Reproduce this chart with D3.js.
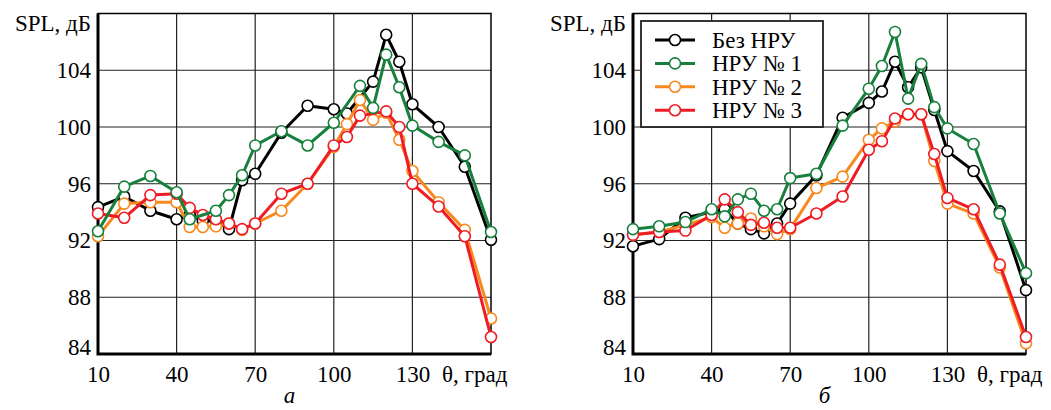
<!DOCTYPE html>
<html>
<head>
<meta charset="utf-8">
<script src="https://cdn.jsdelivr.net/npm/d3@7"></script>
<style>
  body { margin: 0; background: #fff; }
  svg text { font-family: "Liberation Serif", "Times New Roman", serif; font-size: 23px; fill: #000; }
</style>
</head>
<body>
<svg id="chart" width="1051" height="410"></svg>
<script>
var seriesNames = ["Без НРУ", "НРУ № 1", "НРУ № 2", "НРУ № 3"];
var seriesColors = ["#000000", "#17803d", "#f7891f", "#ee1c25"];
var xTicks = [10, 40, 70, 100, 130];
var yTicks = [84, 88, 92, 96, 100, 104];

// panel "а"
var a_bez_x = [10, 20, 30, 40, 45, 50, 55, 60, 65, 70, 80, 90, 100, 105, 115, 120, 125, 130, 140, 150, 160];
var a_bez_y = [94.35, 95.1, 94.1, 93.5, 93.8, 93.4, 93.4, 92.8, 96.25, 96.7, 99.6, 101.5, 101.25, 100.95, 103.2, 106.5, 104.6, 101.6, 100.0, 97.2, 92.05];
var a_n1_x = [10, 20, 30, 40, 45, 55, 60, 65, 70, 80, 90, 100, 110, 115, 120, 125, 130, 140, 150, 160];
var a_n1_y = [92.65, 95.8, 96.55, 95.4, 93.5, 94.1, 95.2, 96.6, 98.7, 99.7, 98.7, 100.3, 102.9, 101.35, 105.1, 102.8, 100.1, 98.95, 98.0, 92.6];
var a_n2_x = [10, 20, 30, 40, 45, 50, 55, 60, 65, 70, 80, 90, 100, 105, 110, 115, 120, 125, 130, 140, 150, 160];
var a_n2_y = [92.3, 94.6, 94.7, 94.7, 92.95, 92.95, 93.0, 93.2, 92.75, 93.2, 94.1, 96.0, 98.6, 100.2, 101.9, 100.5, 101.0, 99.1, 96.9, 94.7, 92.75, 86.5];
var a_n3_x = [10, 20, 30, 40, 45, 50, 55, 60, 65, 70, 80, 90, 100, 105, 110, 120, 125, 130, 140, 150, 160];
var a_n3_y = [93.9, 93.6, 95.2, 95.3, 94.3, 93.8, 93.5, 93.2, 92.8, 93.2, 95.3, 96.0, 98.7, 99.3, 100.8, 101.1, 100.0, 96.0, 94.4, 92.3, 85.2];

// panel "б"
var b_bez_x = [10, 20, 30, 40, 45, 50, 55, 60, 65, 70, 80, 90, 100, 105, 110, 115, 120, 125, 130, 140, 150, 160];
var b_bez_y = [91.6, 92.1, 93.6, 94.0, 94.2, 93.2, 92.8, 92.5, 93.2, 94.6, 96.6, 100.65, 101.7, 102.5, 104.6, 102.8, 104.2, 101.2, 98.3, 96.9, 94.05, 88.5];
var b_n1_x = [10, 20, 30, 40, 45, 50, 55, 60, 65, 70, 80, 90, 100, 105, 110, 115, 120, 125, 130, 140, 150, 160];
var b_n1_y = [92.8, 93.0, 93.3, 94.2, 93.7, 94.9, 95.3, 94.1, 94.2, 96.4, 96.7, 100.1, 102.7, 104.3, 106.7, 102.0, 104.45, 101.4, 99.9, 98.8, 93.9, 89.7];
var b_n2_x = [10, 20, 30, 40, 45, 50, 55, 60, 65, 70, 80, 90, 100, 105, 110, 115, 120, 125, 130, 140, 150, 160];
var b_n2_y = [92.4, 92.6, 93.1, 93.65, 92.9, 93.2, 93.55, 93.0, 92.45, 92.8, 95.7, 96.5, 99.1, 99.9, 100.4, 100.9, 100.9, 97.6, 94.6, 93.9, 90.1, 84.75];
var b_n3_x = [10, 20, 30, 40, 45, 50, 55, 60, 65, 70, 80, 90, 100, 105, 110, 115, 120, 125, 130, 140, 150, 160];
var b_n3_y = [92.4, 92.6, 92.7, 93.8, 94.9, 94.0, 93.1, 93.25, 92.9, 92.9, 93.9, 95.1, 98.4, 99.0, 100.6, 100.9, 100.9, 98.1, 95.0, 94.2, 90.3, 85.2];

var svg = d3.select("#chart");

function zip(xs, ys) {
    return xs.map(function(x, i) { return [x, ys[i]]; });
}

function plot_panel(left, right, letter, series) {
    var top = 13.5, bottom = 354;
    var x = d3.scaleLinear().domain([10, 160]).range([left, right]);
    var y = d3.scaleLinear().domain([84, 108]).range([bottom, top]);
    var g = svg.append("g");

    // grid
    g.append("g")
        .selectAll("line.gx")
        .data(xTicks.slice(1))
        .enter().append("line")
        .attr("x1", d => x(d)).attr("x2", d => x(d))
        .attr("y1", top).attr("y2", bottom)
        .attr("stroke", "#222").attr("stroke-width", 1.2);
    g.append("g")
        .selectAll("line.gy")
        .data(yTicks.slice(1))
        .enter().append("line")
        .attr("x1", left).attr("x2", right)
        .attr("y1", d => y(d)).attr("y2", d => y(d))
        .attr("stroke", "#222").attr("stroke-width", 1.2);

    // frame
    g.append("rect")
        .attr("x", left).attr("y", top)
        .attr("width", right - left).attr("height", bottom - top)
        .attr("fill", "none").attr("stroke", "#000").attr("stroke-width", 1.5);
    g.append("path")
        .attr("d", "M" + left + "," + top + "V" + bottom + "H" + right)
        .attr("fill", "none").attr("stroke", "#000").attr("stroke-width", 3);

    // axes labels
    var ax = g.append("g")
        .attr("transform", "translate(0," + bottom + ")")
        .call(d3.axisBottom(x).tickValues(xTicks).tickSize(0).tickPadding(12).tickFormat(d3.format("d")));
    ax.select(".domain").remove();
    ax.selectAll("text").attr("font-family", null).attr("font-size", null);

    var ay = g.append("g")
        .attr("transform", "translate(" + left + ",0)")
        .call(d3.axisLeft(y).tickValues(yTicks).tickSize(0).tickPadding(7));
    ay.select(".domain").remove();
    ay.selectAll("text").attr("font-family", null).attr("font-size", null)
        .attr("dy", d => d === 84 ? "-0.0em" : "0.32em");

    g.append("text")
        .attr("x", left - 7).attr("y", top + 17)
        .attr("text-anchor", "end")
        .text("SPL, дБ");
    g.append("text")
        .attr("x", x(160) - 49).attr("y", bottom + 28)
        .text("θ, град");
    g.append("text")
        .attr("x", x(85) - 5).attr("y", 403)
        .attr("text-anchor", "middle")
        .style("font-style", "italic")
        .text(letter);

    var line = d3.line().x(d => x(d[0])).y(d => y(d[1]));
    // draw order: black, orange, red, green
    [0, 2, 3, 1].forEach(function(k) {
        var s = series[k];
        var sg = g.append("g");
        sg.append("path")
            .datum(s)
            .attr("d", line)
            .attr("fill", "none")
            .attr("stroke", seriesColors[k])
            .attr("stroke-width", 3)
            .attr("stroke-linejoin", "round");
        sg.selectAll("circle")
            .data(s)
            .enter().append("circle")
            .attr("cx", d => x(d[0]))
            .attr("cy", d => y(d[1]))
            .attr("r", 5.5)
            .attr("fill", "#fff")
            .attr("stroke", seriesColors[k])
            .attr("stroke-width", 1.6);
    });
}

plot_panel(98, 491, "а", [zip(a_bez_x, a_bez_y), zip(a_n1_x, a_n1_y), zip(a_n2_x, a_n2_y), zip(a_n3_x, a_n3_y)]);
plot_panel(633, 1026, "б", [zip(b_bez_x, b_bez_y), zip(b_n1_x, b_n1_y), zip(b_n2_x, b_n2_y), zip(b_n3_x, b_n3_y)]);

// legend
var leg = svg.append("g");
leg.append("rect")
    .attr("x", 641).attr("y", 21)
    .attr("width", 182).attr("height", 106)
    .attr("fill", "#fff").attr("stroke", "#222").attr("stroke-width", 1.8);
seriesNames.forEach(function(name, i) {
    var yy = 40 + i * 23.4;
    leg.append("line")
        .attr("x1", 655).attr("x2", 695).attr("y1", yy).attr("y2", yy)
        .attr("stroke", seriesColors[i]).attr("stroke-width", 3);
    leg.append("circle")
        .attr("cx", 675).attr("cy", yy).attr("r", 5.5)
        .attr("fill", "#fff").attr("stroke", seriesColors[i]).attr("stroke-width", 1.6);
    leg.append("text")
        .attr("x", 712).attr("y", yy + 8)
        .text(name);
});
</script>
</body>
</html>
